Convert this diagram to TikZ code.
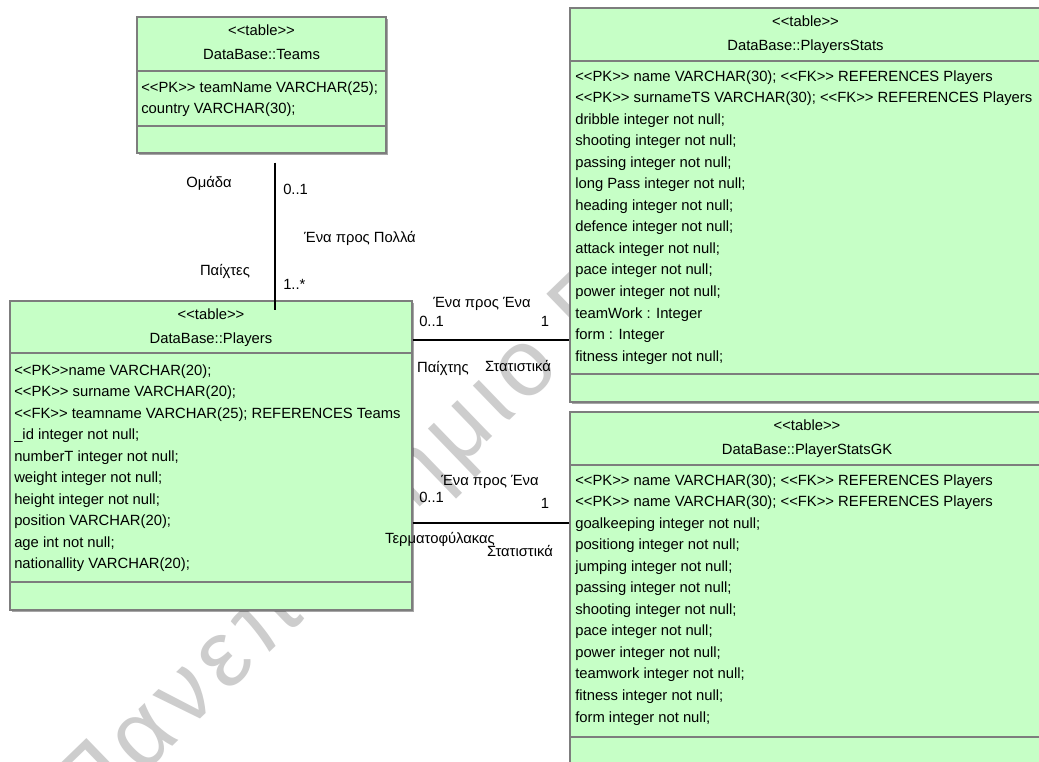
\documentclass[tikz,border=0pt]{standalone}
\usepackage{fontspec}
\newfontfamily\umlfont{Liberation Sans}
\newfontfamily\markfont[LetterSpace=8]{Liberation Sans}
\usetikzlibrary{fit,shadows,calc}
\definecolor{tablefill}{RGB}{198,255,198}
\definecolor{tableline}{RGB}{125,125,125}
\definecolor{markgray}{RGB}{205,205,205}
\tikzset{
  umltext/.style={font=\umlfont\fontsize{11.1pt}{13pt}\selectfont, inner sep=0pt, text=black},
  fieldrow/.style={umltext, anchor=base west},
  headtext/.style={umltext, anchor=base},
  assoclabel/.style={umltext, anchor=base},
  tablebox/.style={draw=tableline, fill=tablefill, line width=0.8pt, inner sep=0pt,
     drop shadow={shadow xshift=1.8pt, shadow yshift=-1.8pt, opacity=0.35, fill=black}},
  divider/.style={draw=tableline, line width=0.8pt},
  assoc/.style={draw=black, line width=0.8pt},
  watermark/.style={font=\markfont\fontsize{71pt}{71pt}\selectfont, text=markgray,
     inner sep=0pt, anchor=base west, rotate=44},
}
\begin{document}
\begin{tikzpicture}[x=0.75pt,y=-0.75pt]
\useasboundingbox (0,0) rectangle (1039,761);
\fill[white] (0,0) rectangle (1039,761);
\clip (0,0) rectangle (1039,761);

% faint watermark lying behind the tables
\node[watermark] (mark) at (88,828) {Πανεπιστήμιο Πειραιώς};

% ---------- tables ----------
\node[tablebox, fit={(137,17) (386,153)}] (teams) {};
\node[tablebox, fit={(10,301) (412,610)}] (players) {};
\node[tablebox, fit={(570,8) (1043,402)}] (stats) {};
\node[tablebox, fit={(570,412) (1043,775)}] (gk) {};

% compartment dividers
\draw[divider] (teams.west |- 0,71) -- (teams.east |- 0,71);
\draw[divider] (teams.west |- 0,126) -- (teams.east |- 0,126);
\draw[divider] (players.west |- 0,353) -- (players.east |- 0,353);
\draw[divider] (players.west |- 0,582) -- (players.east |- 0,582);
\draw[divider] (stats.west |- 0,61) -- (stats.east |- 0,61);
\draw[divider] (stats.west |- 0,374) -- (stats.east |- 0,374);
\draw[divider] (gk.west |- 0,465) -- (gk.east |- 0,465);
\draw[divider] (gk.west |- 0,737) -- (gk.east |- 0,737);

% headers
\node[headtext] (teams-st) at (261.5,35) {<<table>>};
\node[headtext] (teams-title) at (261.5,59) {DataBase::Teams};
\node[headtext] (players-st) at (211,319) {<<table>>};
\node[headtext] (players-title) at (211,343) {DataBase::Players};
\node[headtext] (stats-st) at (805.5,26) {<<table>>};
\node[headtext] (stats-title) at (805.5,50) {DataBase::PlayersStats};
\node[headtext] (gk-st) at (807,430) {<<table>>};
\node[headtext] (gk-title) at (807,454) {DataBase::PlayerStatsGK};

% columns
\foreach \txt [count=\i from 0] in {
  <<PK>> teamName VARCHAR(25);,
  country VARCHAR(30);}
  \node[fieldrow] (teams-r\i) at (141,{92+21.55*\i}) {\txt};

\foreach \txt [count=\i from 0] in {
  <<PK>>name VARCHAR(20);,
  <<PK>> surname VARCHAR(20);,
  <<FK>> teamname VARCHAR(25); REFERENCES Teams,
  \_id integer not null;,
  numberT integer not null;,
  weight integer not null;,
  height integer not null;,
  position VARCHAR(20);,
  age int not null;,
  nationallity VARCHAR(20);}
  \node[fieldrow] (players-r\i) at (14,{375+21.55*\i}) {\txt};

\foreach \txt [count=\i from 0] in {
  <<PK>> name VARCHAR(30); <<FK>> REFERENCES Players,
  <<PK>> surnameTS VARCHAR(30); <<FK>> REFERENCES Players,
  dribble integer not null;,
  shooting integer not null;,
  passing integer not null;,
  long Pass integer not null;,
  heading integer not null;,
  defence integer not null;,
  attack integer not null;,
  pace integer not null;,
  power integer not null;,
  teamWork : Integer,
  form : Integer,
  fitness integer not null;}
  \node[fieldrow] (stats-r\i) at (575,{81+21.55*\i}) {\txt};

\foreach \txt [count=\i from 0] in {
  <<PK>> name VARCHAR(30); <<FK>> REFERENCES Players,
  <<PK>> name VARCHAR(30); <<FK>> REFERENCES Players,
  goalkeeping integer not null;,
  positiong integer not null;,
  jumping integer not null;,
  passing integer not null;,
  shooting integer not null;,
  pace integer not null;,
  power integer not null;,
  teamwork integer not null;,
  fitness integer not null;,
  form integer not null;}
  \node[fieldrow] (gk-r\i) at (575,{485+21.55*\i}) {\txt};

% ---------- associations ----------
\draw[assoc] ($(teams.south -| 275,0)+(0,9)$) -- ($(players.north -| 275,0)+(0,10)$);
\draw[assoc] (players.east |- 0,340) -- (stats.west |- 0,340);
\draw[assoc] (players.east |- 0,523) -- (gk.west |- 0,523);

% Teams -- Players
\node[assoclabel] (l-team) at (209,187) {Ομάδα};
\node[assoclabel, anchor=base west] (l-team-m) at (283,194) {0..1};
\node[assoclabel] (l-onemany) at (360,242) {Ένα προς Πολλά};
\node[assoclabel] (l-players) at (225,275) {Παίχτες};
\node[assoclabel, anchor=base west] (l-players-m) at (283,289) {1..*};

% Players -- PlayersStats
\node[assoclabel] (l-oneone-a) at (482,307) {Ένα προς Ένα};
\node[assoclabel, anchor=base west] (l-pa-m) at (419,326) {0..1};
\node[assoclabel] (l-sa-m) at (545,326) {1};
\node[assoclabel] (l-player) at (443,372) {Παίχτης};
\node[assoclabel] (l-stats-a) at (518,371) {Στατιστικά};

% Players -- PlayerStatsGK
\node[assoclabel] (l-oneone-b) at (490,485) {Ένα προς Ένα};
\node[assoclabel, anchor=base west] (l-pb-m) at (419,502) {0..1};
\node[assoclabel] (l-sb-m) at (545,508) {1};
\node[assoclabel] (l-keeper) at (440,543) {Τερματοφύλακας};
\node[assoclabel] (l-stats-b) at (520,556) {Στατιστικά};
\end{tikzpicture}
\end{document}
